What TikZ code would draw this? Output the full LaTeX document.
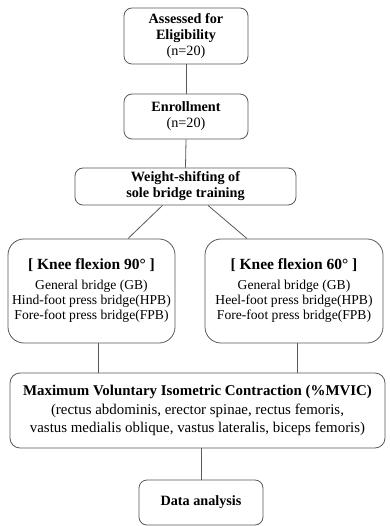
\documentclass[tikz,border=0pt]{standalone}
\usepackage{fontspec}
\setmainfont{Liberation Serif}
\begin{document}
\begin{tikzpicture}[x=1pt,y=-1pt,
  box/.style={draw=black!65, line width=0.8pt, rounded corners=8pt, align=center, inner sep=0pt, font=\fontsize{14.2}{16}\selectfont},
  bigbox/.style={box, rounded corners=16pt, font=\fontsize{13.6}{15}\selectfont},
  wide/.style={box, rounded corners=10pt, font=\fontsize{14.9}{18.5}\selectfont},
  conn/.style={draw=black!65, line width=0.8pt}]
\useasboundingbox (0,0) rectangle (389,526);
\node[box, minimum width=124pt, minimum height=56pt] (b1) at (186,36) {\textbf{Assessed for}\\\textbf{Eligibility}\\(n=20)};
\node[box, minimum width=124pt, minimum height=45pt] (b2) at (186,116.5) {\textbf{Enrollment}\\(n=20)};
\node[box, minimum width=221pt, minimum height=37pt] (b3) at (185.5,186.5) {\textbf{Weight-shifting of}\\\textbf{sole bridge training}};
\node[bigbox, minimum width=167pt, minimum height=104pt] (b4) at (91.5,291) {{\fontsize{15.5}{17}\selectfont\textbf{[ Knee flexion 90° ]}}\\[5pt]General bridge (GB)\\Hind-foot press bridge(HPB)\\Fore-foot press bridge(FPB)};
\node[bigbox, minimum width=178pt, minimum height=104pt] (b5) at (294,291) {{\fontsize{15.5}{17}\selectfont\textbf{[ Knee flexion 60° ]}}\\[5pt]General bridge (GB)\\Heel-foot press bridge(HPB)\\Fore-foot press bridge(FPB)};
\node[wide, minimum width=375pt, minimum height=75pt] (b6) at (197.5,410.5) {\textbf{Maximum Voluntary Isometric Contraction (\%MVIC)}\\(rectus abdominis, erector spinae, rectus femoris,\\vastus medialis oblique, vastus lateralis, biceps femoris)};
\node[box, minimum width=124pt, minimum height=45pt] (b7) at (201,502.5) {\textbf{Data analysis}};
\draw[conn] (b1.south) -- (b2.north);
\draw[conn] (b2.south) -- (b3.north);
\draw[conn] ([xshift=-23pt]b3.south) -- ([xshift=36.5pt]b4.north);
\draw[conn] ([xshift=22.5pt]b3.south) -- ([xshift=-47pt]b5.north);
\draw[conn] ([xshift=6.5pt]b4.south) -- ([xshift=6.5pt]b4.south |- b6.north);
\draw[conn] ([xshift=3pt]b5.south) -- ([xshift=3pt]b5.south |- b6.north);
\draw[conn] (b6.south -| b7.north) -- (b7.north);
\end{tikzpicture}
\end{document}
